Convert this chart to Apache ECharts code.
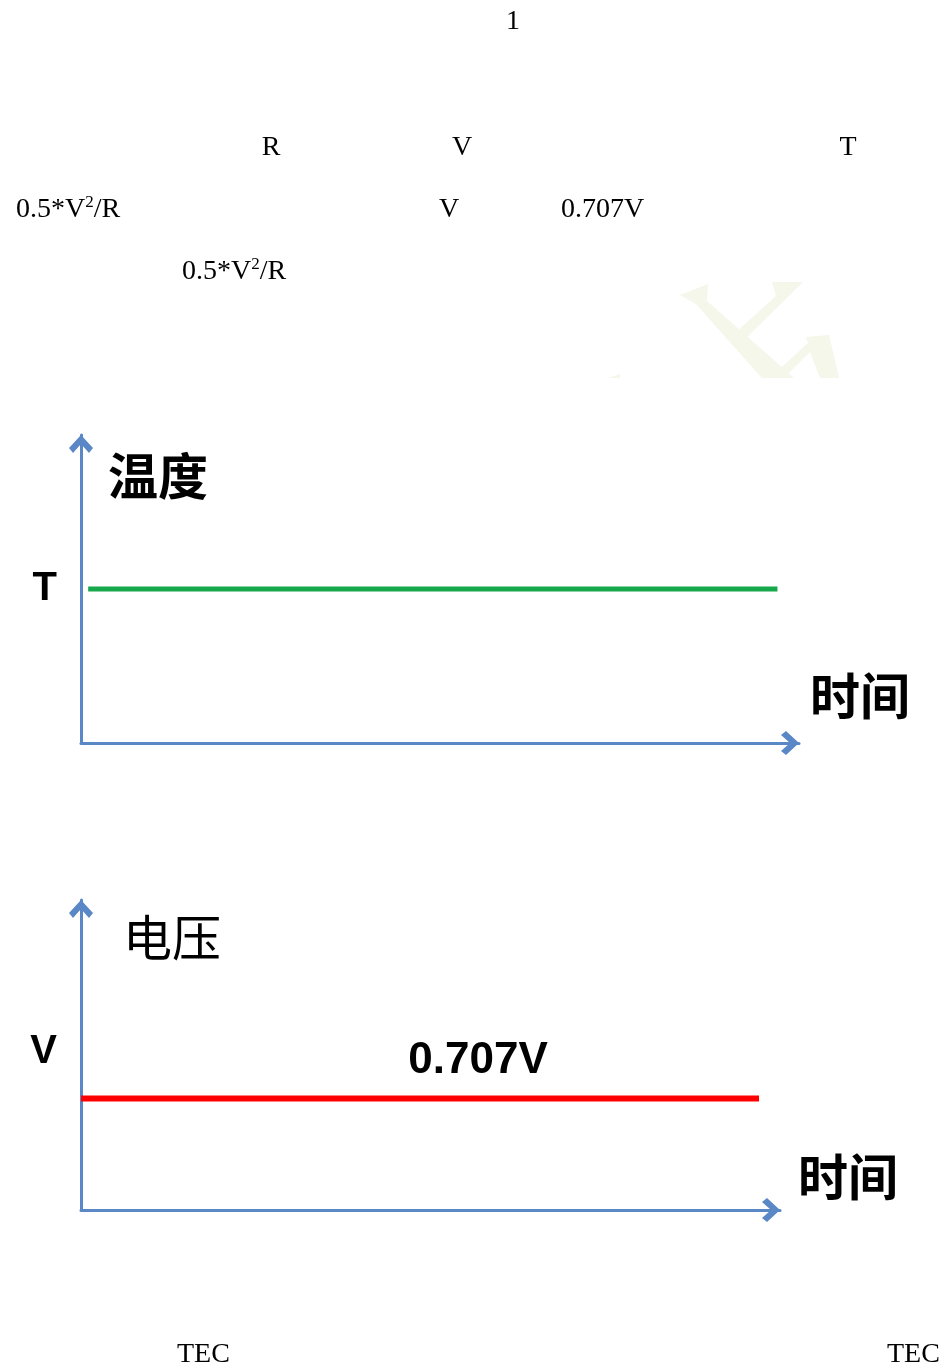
<!DOCTYPE html>
<html><head><meta charset="utf-8">
<script src="https://cdn.jsdelivr.net/npm/echarts@6/dist/echarts.min.js"></script>
<style>html,body{margin:0;padding:0;background:#fff}#c{width:945px;height:1371px}</style>
</head><body><div id="c"></div>
<script>
// ---- data ----
const timeMin = 0, timeMax = 100;
const levelMin = 0, levelMax = 100;
// chart 1: temperature vs time
const tempTime = [1, 97];
const tempValue = [50, 50];
const tempTickValues = [50];
const tempTickLabels = ['T'];
const tempAxisName = '温度';
// chart 2: voltage vs time
const voltTime = [0, 97];
const voltValue = [36, 36];
const voltTickValues = [51];
const voltTickLabels = ['V'];
const voltAxisName = '电压';
const voltAnnotation = '0.707V';
const timeAxisName = '时间';
// page text fragments
const pageNumber = '1';
const line1 = ['R', 'V', 'T'];
const line2 = ['V', '0.707V'];
const formulaBase = '0.5*V';
const formulaSup = '2';
const formulaTail = '/R';
const footer = ['TEC', 'TEC'];

// ---- style ----
const AX = '#5a88c6';
const serif = '"Liberation Serif","DejaVu Serif",serif';
const sans = '"Liberation Sans",Arial,sans-serif';
const cjk = '"Noto Sans CJK SC",sans-serif';
const chevron = 'path://M0,13 L12,0 L24,13 L20,18 L12,9 L4,18 Z';

function toPairs(xs, ys) { return xs.map((x, i) => [x, ys[i]]); }

function axisLine(){
  return {show:true, symbol:['none', chevron], symbolSize:[24,18], symbolOffset:[0,-9],
          lineStyle:{color:AX, width:3}};
}
function makeX(gridIndex, nameGap, padBottom){
  return {type:'value', gridIndex, min:timeMin, max:timeMax, name:timeAxisName,
    nameLocation:'end', nameGap,
    nameTextStyle:{fontFamily:cjk, fontSize:50, fontWeight:'bold', color:'#000', align:'left', verticalAlign:'bottom', padding:[0,0,padBottom,0]},
    axisLine:axisLine(), axisTick:{show:false}, axisLabel:{show:false}, splitLine:{show:false}};
}
function makeY(gridIndex, name, nameGap, padLeft, weight, size, ticks, labels){
  return {type:'value', gridIndex, min:levelMin, max:levelMax, name,
    nameLocation:'end', nameGap,
    nameTextStyle:{fontFamily:cjk, fontSize:size, fontWeight:weight, color:'#000', align:'left', verticalAlign:'middle', padding:[0,0,0,padLeft]},
    axisLine:axisLine(), axisTick:{show:false}, splitLine:{show:false},
    axisLabel:{show:true, customValues:ticks, formatter:(v)=>{const i=ticks.indexOf(v);return i>=0?labels[i]:'';},
      fontFamily:sans, fontWeight:'bold', fontSize:40, color:'#000', margin:24}};
}

const supRich = {
  b:{fontFamily:serif, fontSize:28, color:'#000', lineHeight:32},
  s:{fontFamily:serif, fontSize:17, color:'#000', lineHeight:18, verticalAlign:'top'}
};
function txt(text, x, y, align){
  return {type:'text', x, y, style:{text, fontFamily:serif, fontSize:28, fill:'#000', align:align||'center', verticalAlign:'middle'}};
}
function formula(x, y){
  return {type:'text', x, y, style:{text:'{b|'+formulaBase+'}{s|'+formulaSup+'}{b|'+formulaTail+'}', rich:supRich, align:'left', verticalAlign:'middle'}};
}
const wm = '#f4f7ea';
const graphics = [
  {type:'polygon', z:-1, shape:{points:[[680,295],[708,284],[707,301],[794,378],[762,378],[696,304]]}, style:{fill:wm}},
  {type:'polygon', z:-1, shape:{points:[[772,282],[803,282],[742,342],[734,334],[776,296]]}, style:{fill:wm}},
  {type:'polygon', z:-1, shape:{points:[[806,337],[829,335],[839,378],[820,378],[810,352],[784,378],[770,378],[808,343]]}, style:{fill:wm}},
  {type:'polygon', z:-1, shape:{points:[[608,378],[620,374],[620,378]]}, style:{fill:wm}},
  txt(pageNumber, 513, 22),
  txt(line1[0], 271, 148), txt(line1[1], 462, 148), txt(line1[2], 848, 148),
  formula(16, 210), txt(line2[0], 449, 210), txt(line2[1], 561, 210, 'left'),
  formula(182, 272),
  txt(footer[0], 177, 1355, 'left'), txt(footer[1], 887, 1355, 'left'),
  {type:'text', x:478, y:1061, style:{text:voltAnnotation, fontFamily:sans, fontWeight:'bold', fontSize:44, fill:'#000', align:'center', verticalAlign:'middle'}}
];

const chart = echarts.init(document.getElementById('c'), null, {renderer:'canvas'});
chart.setOption({
  backgroundColor:'#fff',
  animation:false,
  grid:[
    {left:81, right:146, top:435, bottom:628},
    {left:81, right:165, top:900, bottom:161}
  ],
  xAxis:[ makeX(0, 11, 22), makeX(1, 18, 8) ],
  yAxis:[ makeY(0, tempAxisName, -41, 27, 'bold', 50, tempTickValues, tempTickLabels),
          makeY(1, voltAxisName, -37, 42, 'normal', 49, voltTickValues, voltTickLabels) ],
  series:[
    {type:'line', xAxisIndex:0, yAxisIndex:0, data:toPairs(tempTime, tempValue), symbol:'none',
     lineStyle:{color:'#16a84a', width:5}, z:3},
    {type:'line', xAxisIndex:1, yAxisIndex:1, data:toPairs(voltTime, voltValue), symbol:'none',
     lineStyle:{color:'#ff0000', width:6}, z:3}
  ],
  graphic:graphics
});
</script></body></html>
